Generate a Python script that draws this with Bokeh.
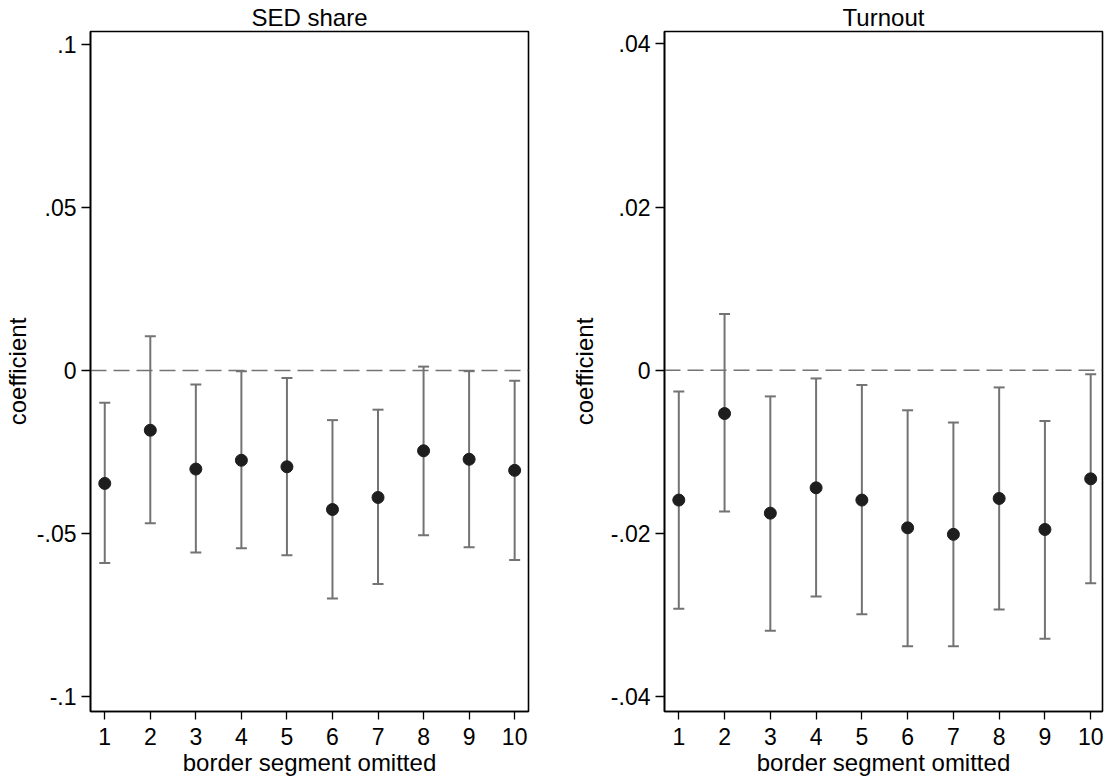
from bokeh.plotting import figure
from bokeh.models import (ColumnDataSource, Whisker, TeeHead, Span,
                          FixedTicker, Range1d)
from bokeh.layouts import row
from bokeh.embed import file_html
from bokeh.resources import INLINE

# ---------------- data ----------------
segments = [1, 2, 3, 4, 5, 6, 7, 8, 9, 10]
x_tick_labels = ["1", "2", "3", "4", "5", "6", "7", "8", "9", "10"]

sed_coef = [-0.0346, -0.0183, -0.0302, -0.0275, -0.0295, -0.0426, -0.0389, -0.0246, -0.0272, -0.0306]
sed_upper = [-0.0099, 0.0105, -0.0043, -0.0002, -0.0023, -0.0152, -0.0120, 0.0012, -0.0002, -0.0031]
sed_lower = [-0.0590, -0.0468, -0.0558, -0.0545, -0.0566, -0.0699, -0.0654, -0.0505, -0.0542, -0.0581]
sed_ticks = [-0.1, -0.05, 0, 0.05, 0.1]
sed_tick_labels = ["-.1", "-.05", "0", ".05", ".1"]

turn_coef = [-0.0159, -0.0053, -0.0175, -0.0144, -0.0159, -0.0193, -0.0201, -0.0157, -0.0195, -0.0133]
turn_upper = [-0.0026, 0.0069, -0.0032, -0.0010, -0.0018, -0.0049, -0.0064, -0.0021, -0.0062, -0.0005]
turn_lower = [-0.0292, -0.0173, -0.0319, -0.0277, -0.0299, -0.0338, -0.0338, -0.0293, -0.0329, -0.0261]
turn_ticks = [-0.04, -0.02, 0, 0.02, 0.04]
turn_tick_labels = ["-.04", "-.02", "0", ".02", ".04"]

FONT = "Liberation Sans"
GRAY = "#737373"
DOT = "#1e1e1e"


def panel(title, coef, upper, lower, ticks, tick_labels, yr, xr,
          width, border_left, border_right, label_standoff):
    p = figure(width=width, height=778, output_backend="svg", toolbar_location=None,
               x_range=Range1d(*xr), y_range=Range1d(*yr),
               min_border_left=border_left, min_border_right=border_right,
               min_border_top=31, min_border_bottom=66)
    p.background_fill_color = "white"
    p.border_fill_color = "white"
    p.outline_line_color = "black"
    p.outline_line_width = 1.6
    p.xgrid.visible = False
    p.ygrid.visible = False

    p.title.text = title
    p.title.text_font = FONT
    p.title.text_font_size = "24px"
    p.title.text_font_style = "normal"
    p.title.text_color = "black"
    p.title.align = "center"
    p.title.standoff = 2
    p.title.offset = 0

    for ax in (p.xaxis[0], p.yaxis[0]):
        ax.axis_line_color = "black"
        ax.axis_line_width = 1.6
        ax.major_tick_line_color = "black"
        ax.major_tick_line_width = 1.3
        ax.major_tick_in = 0
        ax.major_tick_out = 9
        ax.minor_tick_line_color = None
        ax.major_label_text_font = FONT
        ax.major_label_text_font_size = "23px"
        ax.major_label_text_color = "black"
        ax.axis_label_text_font = FONT
        ax.axis_label_text_font_size = "24px"
        ax.axis_label_text_font_style = "normal"
        ax.axis_label_text_color = "black"
        ax.major_label_standoff = 5

    p.xaxis.ticker = FixedTicker(ticks=segments)
    p.xaxis.major_label_overrides = {s: l for s, l in zip(segments, x_tick_labels)}
    p.xaxis.axis_label = "border segment omitted"
    p.xaxis.major_tick_out = 8
    p.xaxis.major_label_standoff = 8
    p.xaxis.axis_label_standoff = 1

    p.yaxis.ticker = FixedTicker(ticks=ticks)
    p.yaxis.major_label_overrides = {t: l for t, l in zip(ticks, tick_labels)}
    p.yaxis.major_label_orientation = "horizontal"
    p.yaxis.axis_label = "coefficient"
    p.yaxis.axis_label_standoff = label_standoff

    zero = Span(location=0, dimension="width", line_color=GRAY, line_width=1.6,
                line_dash="16 7", level="underlay")
    p.add_layout(zero)

    src = ColumnDataSource(dict(x=segments, coef=coef, upper=upper, lower=lower))
    w = Whisker(base="x", upper="upper", lower="lower", source=src, dimension="height",
                line_color=GRAY, line_width=2,
                upper_head=TeeHead(size=11, line_color=GRAY, line_width=2),
                lower_head=TeeHead(size=11, line_color=GRAY, line_width=2),
                level="underlay")
    p.add_layout(w)
    p.scatter("x", "coef", source=src, size=12, fill_color=DOT, line_color=DOT)
    return p


left = panel("SED share", sed_coef, sed_upper, sed_lower, sed_ticks, sed_tick_labels,
             (-0.1045, 0.1039), (0.687, 10.304), 556, 88, 28, 3)
right = panel("Turnout", turn_coef, turn_upper, turn_lower, turn_ticks, turn_tick_labels,
              (-0.0418, 0.0415), (0.6876, 10.258), 548, 108, 2, 10)

layout = row(left, right, spacing=0)
open("out.html", "w").write(file_html(layout, INLINE))
